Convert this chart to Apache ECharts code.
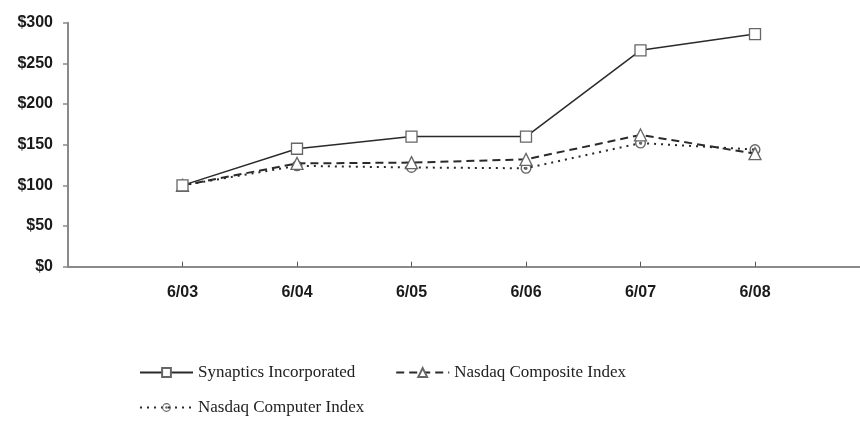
<!DOCTYPE html>
<html><head><meta charset="utf-8">
<script src="https://cdn.jsdelivr.net/npm/echarts@6/dist/echarts.min.js"></script>
<style>html,body{margin:0;padding:0;background:#fff}#c{width:860px;height:423px}</style>
</head><body><div id="c"></div>
<script>
const categories = ['6/03','6/04','6/05','6/06','6/07','6/08'];
const synaptics = [100, 145, 160, 160, 266, 286];
const composite = [100, 127, 128, 132, 162, 139];
const computer  = [100, 124, 122, 121, 152, 144];
const yTicks = [0, 50, 100, 150, 200, 250, 300];

const ringDot = 'path://M0,-10A10,10 0 1,1 0,10A10,10 0 1,1 0,-10Z M0,-7.5A7.5,7.5 0 1,0 0,7.5A7.5,7.5 0 1,0 0,-7.5Z M0,-3A3,3 0 1,1 0,3A3,3 0 1,1 0,-3Z';
const toXY = arr => arr.map((v, i) => [i + 1, v]);
const chart = echarts.init(document.getElementById('c'));
const lineColor = '#2a2a2a';
const labelFont = {fontFamily: 'Liberation Sans, Arial', fontWeight: 'bold', fontSize: 16, color: '#1a1a1a'};
chart.setOption({
  animation: false,
  grid: {left: 68, right: 0, top: 22.7, height: 244},
  xAxis: {
    type: 'value', min: 0, max: 6.917, interval: 1,
    splitLine: {show: false},
    axisLine: {show: true, lineStyle: {color: '#8a8a8a', width: 2}},
    axisTick: {show: true, inside: true, length: 5, customValues: [1,2,3,4,5,6], lineStyle: {color: '#555', width: 1}},
    axisLabel: Object.assign({customValues: [1,2,3,4,5,6], margin: 18,
      formatter: v => categories[Math.round(v) - 1] || ''}, labelFont)
  },
  yAxis: {
    type: 'value', min: 0, max: 300, interval: 50,
    splitLine: {show: false},
    axisLine: {show: true, lineStyle: {color: '#8a8a8a', width: 2}},
    axisTick: {show: true, length: 5, lineStyle: {color: '#8a8a8a', width: 1.5}},
    axisLabel: Object.assign({margin: 15,
      formatter: v => yTicks.indexOf(v) >= 0 ? '$' + v : ''}, labelFont)
  },
  legend: [
    {left: 134, top: 359, itemWidth: 53, itemHeight: 11, itemGap: 40,
     textStyle: {fontFamily: 'Liberation Serif, Times New Roman', fontSize: 17, color: '#222'},
     data: ['Synaptics Incorporated', 'Nasdaq Composite Index']},
    {left: 134, top: 394, itemWidth: 53, itemHeight: 11,
     textStyle: {fontFamily: 'Liberation Serif, Times New Roman', fontSize: 17, color: '#222'},
     data: ['Nasdaq Computer Index']}
  ],
  series: [
    {name: 'Synaptics Incorporated', type: 'line', data: toXY(synaptics), symbol: 'rect', symbolSize: 11, z: 3,
     lineStyle: {color: lineColor, width: 1.5},
     itemStyle: {color: '#fff', borderColor: '#666', borderWidth: 1.3}},
    {name: 'Nasdaq Composite Index', type: 'line', data: toXY(composite), symbol: 'triangle', symbolSize: 12, z: 2,
     lineStyle: {color: lineColor, width: 2, type: [8, 5]},
     itemStyle: {color: '#fff', borderColor: '#666', borderWidth: 1.3}},
    {name: 'Nasdaq Computer Index', type: 'line', data: toXY(computer), symbol: ringDot, symbolSize: 11, z: 1,
     lineStyle: {color: lineColor, width: 2, type: [2, 5]},
     itemStyle: {color: '#666', borderWidth: 0}}
  ]
});
</script></body></html>
